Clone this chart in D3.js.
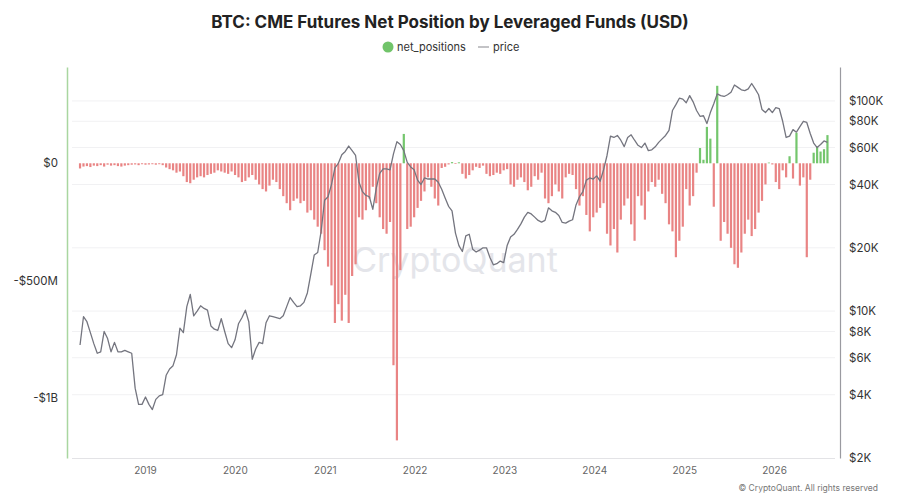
<!DOCTYPE html>
<html>
<head>
<meta charset="utf-8">
<script src="https://cdn.jsdelivr.net/npm/d3@7"></script>
<style>
  body { margin: 0; background: #fff; }
  svg text { font-family: Inter, "Noto Sans", sans-serif; }
</style>
</head>
<body>
<div id="chart"></div>
<script>

// first bar date, bars are two weeks apart
let startDate = new Date(2018, 3, 12);
let stepDays = 14;

// net position of leveraged funds, in millions of USD
let netPositions = [
  -22, -14, -12, -16, -10, -12, -8, -14, -6, -10,
  -8, -12, -14, -10, -8, -6, -5, -8, -4, -6,
  -5, -4, -6, -4, -8, -18, -25, -30, -40, -35,
  -55, -80, -85, -70, -60, -55, -60, -50, -45, -40,
  -30, -35, -40, -45, -35, -50, -60, -80, -75, -60,
  -50, -70, -90, -110, -120, -95, -70, -80, -110, -140,
  -170, -200, -160, -150, -170, -160, -210, -200, -240, -270,
  -300, -370, -440, -520, -680, -600, -670, -560, -680, -480,
  -430, -230, -240, -200, -150, -100, -170, -230, -280, -300,
  -250, -860, -1180, -455, 125, -280, -270, -230, -190, -160,
  -120, -60, -100, -150, -180, -20, -15, -5, 5, -3,
  4, -45, -65, -50, -30, -15, -20, -10, -45, -55,
  -50, -40, -45, -30, -25, -90, -100, -70, -60, -80,
  -115, -100, -55, -70, -40, -150, -170, -140, -90, -120,
  -150, -60, -45, -50, -110, -180, -140, -220, -290, -230,
  -210, -190, -170, -300, -350, -280, -380, -240, -180, -150,
  -260, -330, -140, -180, -240, -120, -80, -100, -70, -130,
  -170, -260, -290, -400, -330, -270, -110, -180, -140, -40,
  65, 15, 155, 105, -185, 330, -330, -250, -300, -360,
  -430, -445, -380, -300, -240, -310, -280, -210, -160, -90,
  3, -5, -80, -110, -30, -60, 30, -65, 130, -95,
  -60, -400, -70, 45, 70, 50, 60, 120
];

// BTC price, USD, same dates
let prices = [
  6900, 9400, 8900, 7900, 7000, 6300, 6400, 8000, 7400, 6400,
  7100, 6400, 6400, 6500, 6400, 6300, 4300, 3600, 3600, 3900,
  3600, 3400, 3800, 3950, 4000, 4950, 5300, 5500, 6200, 8300,
  7900, 10500, 12000, 9500, 10000, 10600, 10300, 10100, 8500, 8200,
  8100, 9200, 8000, 7000, 6700, 7300, 8700, 9300, 10100, 8900,
  5900, 6600, 7100, 7000, 8800, 9500, 9400, 9300, 9200, 9500,
  10500, 11600, 11000, 10500, 10600, 11000, 12200, 15000, 18500, 19000,
  24000, 33700, 35000, 40000, 48000, 50500, 55500, 57500, 61000, 58000,
  55000, 41000, 37000, 35500, 35000, 30500, 38400, 45200, 47500, 47500,
  47000, 56000, 64000, 62000, 58000, 51000, 48500, 47000, 42000, 40000,
  43000, 42500, 42500, 42500, 41000, 38000, 34500, 31500, 30000, 23500,
  20500, 19200, 22800, 23200, 19700, 19100, 19500, 20000, 20000, 18000,
  16600, 16800, 17300, 17000, 20500, 22500, 23200, 24500, 26000, 28000,
  29500, 29000, 28000, 27000, 26500, 27000, 31000, 30000, 29500, 28500,
  26400, 26200, 26800, 27200, 32000, 35000, 37000, 42000, 43000, 42500,
  44000, 41500, 47000, 55000, 68000, 67000, 68500, 65000, 60600, 67000,
  69000, 65000, 61500, 60000, 63000, 58000, 58500, 60500, 63500, 66000,
  68500, 72500, 90000, 96000, 103000, 102000, 98000, 106000, 99000, 90000,
  84500, 85000, 78000, 88000, 97000, 108000, 106000, 105000, 107000, 110000,
  119000, 116000, 113000, 112000, 114000, 121000, 114000, 107000, 91000, 88000,
  92000, 88000, 93000, 92000, 80000, 67000, 68000, 73000, 71000, 75500,
  80000, 79000, 70000, 63000, 60000, 62000, 64500, 63500
];

let leftTicks = [0, -500, -1000];
let leftTickLabels = ["$0", "-$500M", "-$1B"];
let rightTicks = [2000, 4000, 6000, 8000, 10000, 20000, 40000, 60000, 80000, 100000];
let rightTickLabels = ["$2K", "$4K", "$6K", "$8K", "$10K", "$20K", "$40K", "$60K", "$80K", "$100K"];
let yearTicks = [2019, 2020, 2021, 2022, 2023, 2024, 2025, 2026];

let width = 900;
let height = 500;
let margin = { top: 67, right: 60, bottom: 42, left: 67 };

let data = netPositions.map(function (v, i) {
  return { date: d3.timeDay.offset(startDate, i * stepDays), net: v, price: prices[i] };
});

let svg = d3.select("#chart").append("svg")
  .attr("width", width)
  .attr("height", height);

// scales
let x = d3.scaleTime()
  .domain([new Date(2018, 1, 18), new Date(2026, 8, 26)])
  .range([margin.left, width - margin.right]);

let yNet = d3.scaleLinear()
  .domain([-1255, 410])
  .range([height - margin.bottom, margin.top]);

let yPrice = d3.scaleLog()
  .domain([2000, 145000])
  .range([height - margin.bottom, margin.top]);

// gridlines follow the price axis
svg.append("g")
  .selectAll("line")
  .data(rightTicks.slice(1))
  .enter().append("line")
  .attr("x1", margin.left + 5)
  .attr("x2", width - margin.right - 5)
  .attr("y1", function (d) { return yPrice(d); })
  .attr("y2", function (d) { return yPrice(d); })
  .attr("stroke", "#f1f1f3")
  .attr("stroke-width", 1);

// watermark
svg.append("text")
  .attr("x", 455)
  .attr("y", 272)
  .attr("text-anchor", "middle")
  .attr("font-size", 34)
  .attr("fill", "#e4e5ea")
  .text("CryptoQuant");

// bars
svg.append("g")
  .selectAll("rect")
  .data(data)
  .enter().append("rect")
  .attr("x", function (d) { return x(d.date) - 1.1; })
  .attr("width", 2.2)
  .attr("y", function (d) { return yNet(Math.max(0, d.net)); })
  .attr("height", function (d) { return Math.abs(yNet(d.net) - yNet(0)); })
  .attr("fill", function (d) { return d.net >= 0 ? "#74c66d" : "#e98484"; });

// price line
let line = d3.line()
  .x(function (d) { return x(d.date); })
  .y(function (d) { return yPrice(d.price); });

svg.append("path")
  .datum(data)
  .attr("d", line)
  .attr("fill", "none")
  .attr("stroke", "#74757f")
  .attr("stroke-width", 1.3)
  .attr("stroke-linejoin", "round");

// x axis
let xAxis = svg.append("g")
  .attr("transform", "translate(0," + (height - margin.bottom) + ")")
  .call(d3.axisBottom(x)
    .tickValues(yearTicks.map(function (y) { return new Date(y, 0, 1); }))
    .tickFormat(d3.timeFormat("%Y"))
    .tickSize(0)
    .tickPadding(9));
xAxis.select(".domain")
  .attr("stroke", "#e3e3e6")
  .attr("d", "M" + (margin.left + 5) + ",0.5H" + (width - margin.right - 5));
xAxis.selectAll("text").attr("fill", "#666").attr("font-size", 10);

// left axis
let leftAxis = svg.append("g")
  .attr("transform", "translate(" + margin.left + ",0)")
  .call(d3.axisLeft(yNet)
    .tickValues(leftTicks)
    .tickFormat(function (d, i) { return leftTickLabels[i]; })
    .tickSize(0)
    .tickPadding(9));
leftAxis.select(".domain").attr("stroke", "#a9d6a0").attr("stroke-width", 1.5);
leftAxis.selectAll("text").attr("fill", "#333").attr("font-size", 11.5);

// right axis
let rightAxis = svg.append("g")
  .attr("transform", "translate(" + (width - margin.right) + ",0)")
  .call(d3.axisRight(yPrice)
    .tickValues(rightTicks)
    .tickFormat(function (d, i) { return rightTickLabels[i]; })
    .tickSize(0)
    .tickPadding(9));
rightAxis.select(".domain").attr("stroke", "#9a9aa0").attr("stroke-width", 1.2);
rightAxis.selectAll("text").attr("fill", "#333").attr("font-size", 11.5);

// title
svg.append("text")
  .attr("x", width / 2)
  .attr("y", 28)
  .attr("text-anchor", "middle")
  .attr("font-size", 17)
  .attr("font-weight", 700)
  .attr("fill", "#222")
  .text("BTC: CME Futures Net Position by Leveraged Funds (USD)");

// legend
let legend = svg.append("g").attr("transform", "translate(388,47)");
legend.append("circle").attr("r", 5.5).attr("fill", "#71c46a");
legend.append("text").attr("x", 9).attr("y", 4).attr("font-size", 11).attr("fill", "#333").text("net_positions");
legend.append("line").attr("x1", 90).attr("x2", 101).attr("stroke", "#9a9aa0").attr("stroke-width", 1.2);
legend.append("text").attr("x", 105).attr("y", 4).attr("font-size", 11).attr("fill", "#333").text("price");

// copyright
svg.append("text")
  .attr("x", 878)
  .attr("y", 491)
  .attr("text-anchor", "end")
  .attr("font-size", 8.5)
  .attr("fill", "#777")
  .text("© CryptoQuant. All rights reserved");

</script>
</body>
</html>
